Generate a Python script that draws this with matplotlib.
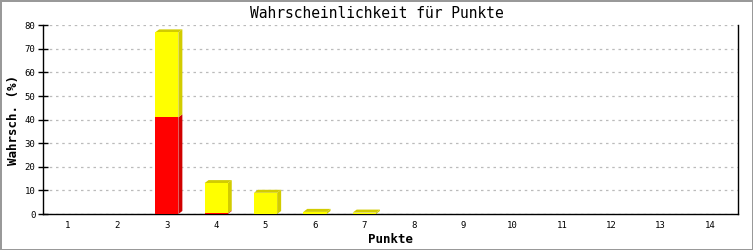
import matplotlib
matplotlib.use("Agg")
import matplotlib.pyplot as plt
from matplotlib.patches import Polygon

categories = list(range(1, 15))
red_vals = [0, 0, 41, 0.3, 0, 0, 0, 0, 0, 0, 0, 0, 0, 0]
yellow_vals = [0, 0, 36, 12.8, 9, 0.9, 0.6, 0, 0, 0, 0, 0, 0, 0]
yticks = [0, 10, 20, 30, 40, 50, 60, 70, 80]

W, H = 753, 250
fig = plt.figure(figsize=(W / 100, H / 100), dpi=100)
fig.patch.set_facecolor("white")
fig.patch.set_edgecolor("#999999")
fig.patch.set_linewidth(2)

ax = fig.add_axes([43 / W, 1 - 214 / H, (738 - 43) / W, (214 - 25.3) / H])
xlim = (0.494, 14.567)
ylim = (0, 80)
ax.set_xlim(*xlim)
ax.set_ylim(*ylim)

# pixel-based 3D offsets converted to data units
px_x = (738 - 43) / (xlim[1] - xlim[0])
px_y = (214 - 25.3) / (ylim[1] - ylim[0])
dx = 4 / px_x
dy = 3 / px_y
bw = 0.47

front = {"red": "#ff0000", "yellow": "#ffff00"}
shade = {"red": "#d00000", "yellow": "#d2cc00"}

for i, c in enumerate(categories):
    segs = [("red", 0, red_vals[i]), ("yellow", red_vals[i], red_vals[i] + yellow_vals[i])]
    segs = [s for s in segs if s[2] - s[1] > 0]
    if not segs:
        continue
    x0, x1 = c - bw / 2, c + bw / 2
    for col, y0, y1 in segs:
        side = Polygon([(x1, y0), (x1 + dx, y0 + dy), (x1 + dx, y1 + dy), (x1, y1)],
                       closed=True, facecolor=shade[col], edgecolor="none", zorder=2)
        ax.add_patch(side)
    col, y0, y1 = segs[-1]
    top = Polygon([(x0, y1), (x0 + dx, y1 + dy), (x1 + dx, y1 + dy), (x1, y1)],
                  closed=True, facecolor=shade[col], edgecolor="none", zorder=2)
    ax.add_patch(top)

ax.bar(categories, red_vals, width=bw, color=front["red"], zorder=3, linewidth=0)
ax.bar(categories, yellow_vals, width=bw, bottom=red_vals, color=front["yellow"],
       zorder=3, linewidth=0)

ax.set_yticks(yticks)
ax.set_yticklabels([str(v) for v in yticks], fontsize=6.5, family="DejaVu Sans Mono")
ax.set_xticks(categories)
ax.set_xticklabels([str(c) for c in categories], fontsize=6.5, family="DejaVu Sans Mono")
ax.tick_params(axis="y", direction="inout", length=7, width=1, pad=2)
ax.tick_params(axis="x", length=0, pad=5)

ax.yaxis.grid(True, linestyle=(0, (2, 3)), color="#bbbbbb", linewidth=0.9)
ax.set_axisbelow(True)

for s in ["left", "bottom", "right"]:
    ax.spines[s].set_color("black")
    ax.spines[s].set_linewidth(1.0)
ax.spines["top"].set_visible(False)

ax.set_xlabel("Punkte", fontsize=9, fontweight="bold", family="DejaVu Sans Mono", labelpad=2)
ax.set_ylabel("Wahrsch. (%)", fontsize=9, fontweight="bold", family="DejaVu Sans Mono", labelpad=3)
fig.text(0.5, 1 - 14 / H, "Wahrscheinlichkeit für Punkte", ha="center", va="center",
         fontsize=10.5, family="DejaVu Sans Mono")

fig.savefig("out.png", dpi=100, facecolor=fig.get_facecolor(), edgecolor=fig.get_edgecolor())
